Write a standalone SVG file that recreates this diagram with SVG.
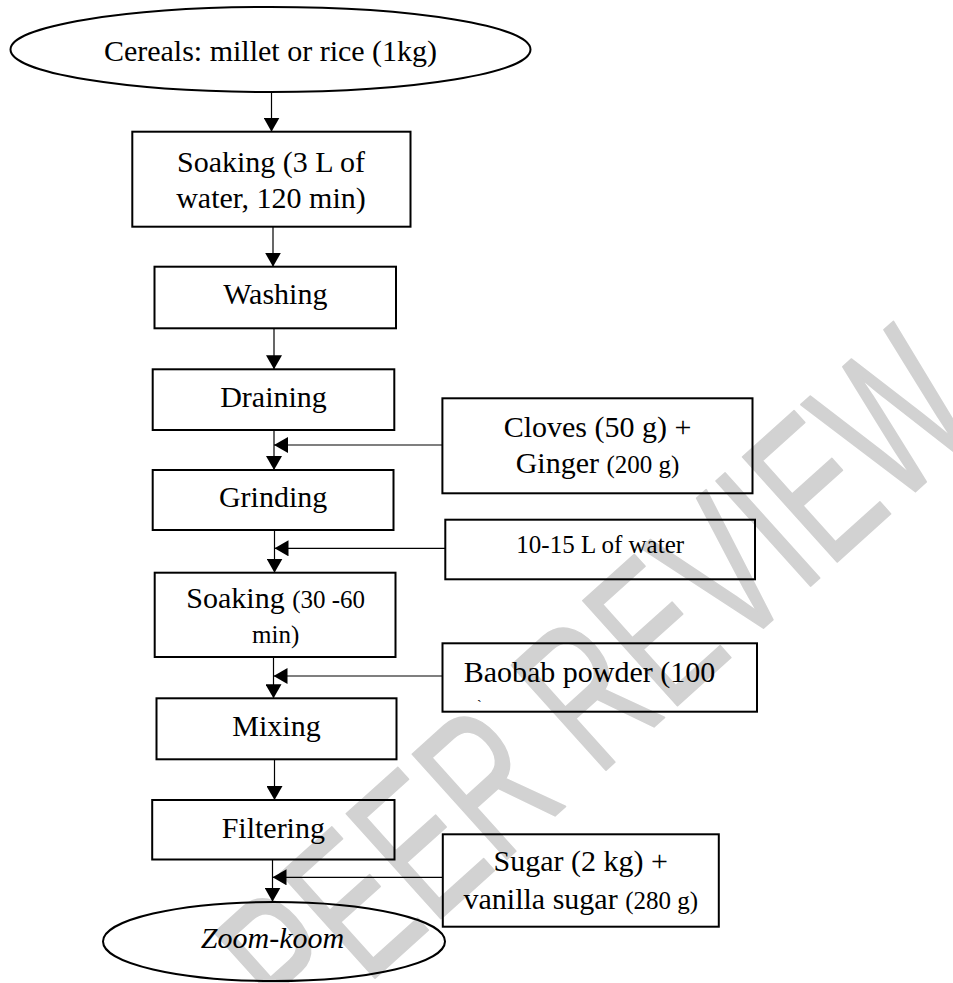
<svg xmlns="http://www.w3.org/2000/svg" width="953" height="983" viewBox="0 0 953 983">
<style>
.box{fill:none;stroke:#000;stroke-width:2}
.t{font-family:"Liberation Serif","Times New Roman",serif;font-size:30px;fill:#000}
.c{text-anchor:middle}
.s{font-size:25px}
.ln{stroke:#000;stroke-width:1.2;fill:none}
.wm{font-family:"Liberation Sans",Arial,sans-serif;font-size:205px;fill:#d2d2d2;stroke:#d2d2d2;stroke-width:2;stroke-linejoin:round}
</style>
<defs>
<marker id="ah" markerUnits="userSpaceOnUse" markerWidth="14" markerHeight="16" viewBox="0 0 14 16" refX="14" refY="8" orient="auto">
<path d="M0,0 L14,8 L0,16 z" fill="#000"/>
</marker>
</defs>
<rect width="953" height="983" fill="#fff"/>
<g id="watermark">
<text class="wm" x="0" y="0" transform="translate(300.4 1045) rotate(-42) scale(0.65 1)">PEER REVIEW</text>
</g>
<g id="connectors">
<line class="ln" x1="271.5" y1="92" x2="271.5" y2="131.7" marker-end="url(#ah)"/>
<line class="ln" x1="273" y1="226.7" x2="273" y2="266.7" marker-end="url(#ah)"/>
<line class="ln" x1="274" y1="328.3" x2="274" y2="369.3" marker-end="url(#ah)"/>
<line class="ln" x1="274" y1="430" x2="274" y2="470" marker-end="url(#ah)"/>
<line class="ln" x1="442.4" y1="445" x2="274" y2="445" marker-end="url(#ah)"/>
<line class="ln" x1="274.5" y1="530" x2="274.5" y2="572.7" marker-end="url(#ah)"/>
<line class="ln" x1="445.3" y1="548.3" x2="274.5" y2="548.3" marker-end="url(#ah)"/>
<line class="ln" x1="273.5" y1="657" x2="273.5" y2="698.3" marker-end="url(#ah)"/>
<line class="ln" x1="442.5" y1="676" x2="273.5" y2="676" marker-end="url(#ah)"/>
<line class="ln" x1="274.5" y1="759.3" x2="274.5" y2="800" marker-end="url(#ah)"/>
<line class="ln" x1="272.5" y1="859.5" x2="272.5" y2="901.7" marker-end="url(#ah)"/>
<line class="ln" x1="442.8" y1="877.3" x2="272.5" y2="877.3" marker-end="url(#ah)"/>
</g>
<g id="cereals">
<ellipse class="box" cx="270.5" cy="49.5" rx="260" ry="42.5"/>
<text class="t c" x="270.5" y="61">Cereals: millet or rice (1kg)</text>
</g>
<g id="soaking1">
<rect class="box" x="132.3" y="131.7" width="278.2" height="95"/>
<text class="t c" x="271" y="171.7">Soaking (3 L of</text>
<text class="t c" x="271" y="208.3">water, 120 min)</text>
</g>
<g id="washing">
<rect class="box" x="154.5" y="266.7" width="241.5" height="61.6"/>
<text class="t c" x="275.3" y="304">Washing</text>
</g>
<g id="draining">
<rect class="box" x="152.7" y="369.3" width="241.6" height="60.7"/>
<text class="t c" x="273.5" y="406.7">Draining</text>
</g>
<g id="cloves">
<rect class="box" x="442.4" y="398.3" width="310.1" height="95"/>
<text class="t c" x="597.5" y="436.7">Cloves (50 g) +</text>
<text class="t c" x="597.5" y="473.3">Ginger <tspan class="s">(200 g)</tspan></text>
</g>
<g id="grinding">
<rect class="box" x="152.7" y="470" width="240.8" height="60"/>
<text class="t c" x="273.1" y="506.7">Grinding</text>
</g>
<g id="water">
<rect class="box" x="445.3" y="519.7" width="309.7" height="59.6"/>
<text class="t s c" x="600.2" y="552.7">10-15 L of water</text>
</g>
<g id="soaking2">
<rect class="box" x="154.7" y="572.7" width="240.8" height="84.3"/>
<text class="t c" x="275.7" y="608.3">Soaking <tspan class="s">(30 -60</tspan></text>
<text class="t s c" x="275.7" y="642.5">min)</text>
</g>
<g id="baobab">
<rect class="box" x="442.5" y="643.3" width="314.5" height="68.4"/>
<text class="t" x="463.7" y="681.7">Baobab powder (100</text>
<text class="t" x="477" y="710" style="font-size:14px">`</text>
</g>
<g id="mixing">
<rect class="box" x="156.5" y="698.3" width="240" height="61"/>
<text class="t c" x="276.5" y="735.5">Mixing</text>
</g>
<g id="filtering">
<rect class="box" x="152.2" y="800" width="242.3" height="59.5"/>
<text class="t c" x="273.3" y="838">Filtering</text>
</g>
<g id="sugar">
<rect class="box" x="442.8" y="834.3" width="276" height="92.4"/>
<text class="t c" x="580.8" y="871">Sugar (2 kg) +</text>
<text class="t c" x="580.8" y="909">vanilla sugar <tspan class="s">(280 g)</tspan></text>
</g>
<g id="zoomkoom">
<ellipse class="box" cx="274" cy="941.5" rx="171" ry="39.5"/>
<text class="t c" x="272.5" y="948.3" font-style="italic">Zoom-koom</text>
</g>
</svg>
